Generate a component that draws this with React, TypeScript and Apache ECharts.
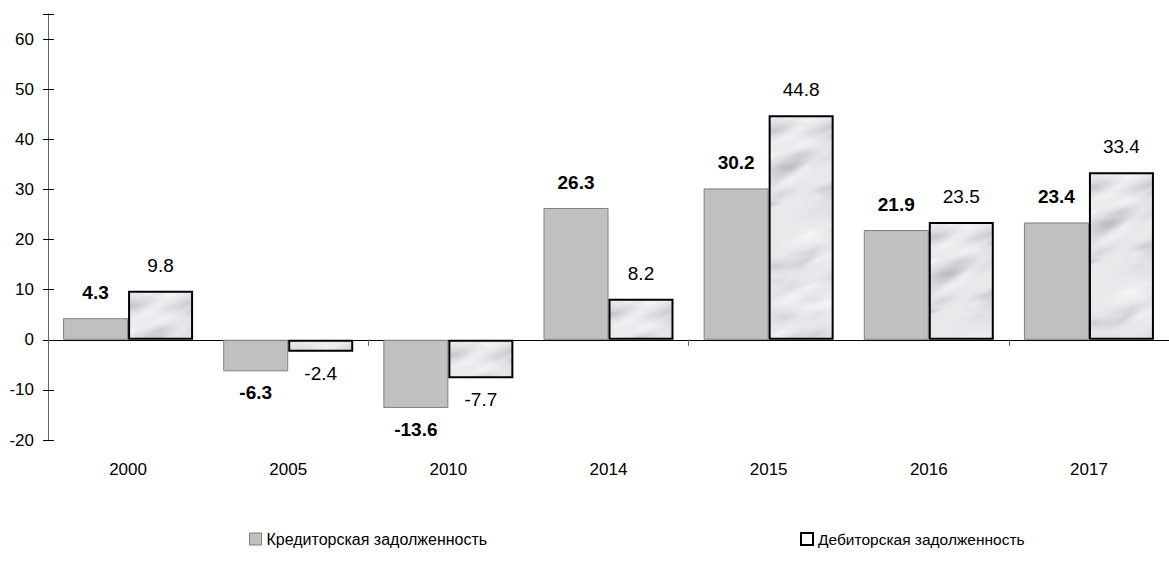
import React, { useEffect, useRef } from "react";
import * as echarts from "echarts";

const years = ["2000", "2005", "2010", "2014", "2015", "2016", "2017"];
const creditors = [4.3, -6.3, -13.6, 26.3, 30.2, 21.9, 23.4];
const debtors = [9.8, -2.4, -7.7, 8.2, 44.8, 23.5, 33.4];
const seriesNames = ["Кредиторская задолженность", "Дебиторская задолженность"];

const FONT = "'Liberation Sans', Arial, sans-serif";

function frac(v: number) {
  return ((v % 1) + 1) % 1;
}

function makeMarble(w: number, h: number): HTMLCanvasElement | null {
  const c = document.createElement("canvas");
  c.width = w;
  c.height = h;
  const ctx = c.getContext("2d");
  if (!ctx) return null;
  ctx.fillStyle = "#e9e9ec";
  ctx.fillRect(0, 0, w, h);
  // deterministic soft smudges (texture only, not data)
  for (let i = 0; i < 3000; i++) {
    const x = frac(Math.sin(i * 12.9898 + 1.1) * 43758.5453) * w;
    const y = frac(Math.sin(i * 78.233 + 2.7) * 12345.678) * h;
    const r = 6 + frac(Math.sin(i * 3.17 + 0.3) * 999.1) * 18;
    const k = i % 5;
    const shade =
      k === 0
        ? "rgba(150,152,160,0.45)"
        : k === 1
        ? "rgba(178,180,186,0.4)"
        : k === 2 || k === 3
        ? "rgba(255,255,255,0.6)"
        : "rgba(200,202,207,0.35)";
    ctx.save();
    ctx.translate(x, y);
    ctx.rotate(-0.6 + frac(Math.sin(i * 5.3) * 77.7) * 0.5);
    ctx.scale(2.0, 0.6);
    const g = ctx.createRadialGradient(0, 0, 0, 0, 0, r);
    g.addColorStop(0, shade);
    g.addColorStop(1, "rgba(230,230,234,0)");
    ctx.fillStyle = g;
    ctx.beginPath();
    ctx.arc(0, 0, r, 0, Math.PI * 2);
    ctx.fill();
    ctx.restore();
  }
  return c;
}

export default function App() {
  const ref = useRef<HTMLDivElement>(null);
  useEffect(() => {
    if (!ref.current) return;
    const chart = echarts.init(ref.current, null, { renderer: "svg" });
    const canvas = makeMarble(1200, 600);
    const marble: any = canvas ? { image: canvas, repeat: "no-repeat" } : "#e4e4e7";
    const mk = (vals: number[]) =>
      vals.map((v) => ({
        value: v,
        label: { position: v < 0 ? "bottom" : "top", distance: v < 0 ? 12 : 16 },
      }));
    const yCommon = {
      type: "value",
      min: -20,
      max: 65,
      interval: 10,
      splitLine: { show: false },
    };
    const legendText = { fontSize: 16, color: "#000", fontFamily: FONT };
    chart.setOption({
      animation: false,
      textStyle: { fontFamily: FONT },
      grid: { left: 48, right: -14, top: 14, bottom: 130, containLabel: false },
      legend: [
        {
          left: 249,
          top: 531,
          itemWidth: 12,
          itemHeight: 12,
          padding: 0,
          icon: "rect",
          textStyle: legendText,
          data: [
            { name: seriesNames[0], icon: "rect", itemStyle: { color: "#c0c0c0", borderColor: "#808080", borderWidth: 1 } },
          ],
          selectedMode: false,
        },
        {
          left: 800,
          top: 531,
          itemWidth: 12,
          itemHeight: 12,
          padding: 0,
          icon: "rect",
          textStyle: { ...legendText, fontSize: 15.5 },
          data: [
            { name: seriesNames[1], icon: "rect", itemStyle: { color: "#ffffff", borderColor: "#000", borderWidth: 2 } },
          ],
          selectedMode: false,
        },
      ],
      xAxis: [
        {
          type: "category",
          data: years,
          axisLine: { onZero: true, lineStyle: { color: "#000", width: 1 } },
          axisTick: { show: true, interval: 1, length: 6, lineStyle: { color: "#666" } },
          axisLabel: { show: false },
        },
        {
          type: "category",
          data: years,
          position: "bottom",
          axisLine: { show: false, onZero: false },
          axisTick: { show: false },
          axisLabel: { show: true, margin: 21, fontSize: 17, color: "#000", fontFamily: FONT },
        },
        {
          type: "category",
          data: years,
          axisLine: { show: false, onZero: true },
          axisTick: { show: true, inside: true, interval: 1, length: 6, lineStyle: { color: "#666" } },
          axisLabel: { show: false },
        },
      ],
      yAxis: [
        {
          ...yCommon,
          axisLine: { show: true, lineStyle: { color: "#666" } },
          axisTick: { show: true, length: 5, lineStyle: { color: "#000" } },
          axisLabel: {
            margin: 14,
            fontSize: 17,
            color: "#000",
            fontFamily: FONT,
            formatter: (v: number) => (v > 60 ? "" : String(v)),
          },
        },
        {
          ...yCommon,
          position: "left",
          axisLine: { show: false },
          axisTick: { show: true, inside: true, length: 6, lineStyle: { color: "#000" } },
          axisLabel: { show: false },
        },
      ],
      series: [
        {
          name: seriesNames[0],
          type: "bar",
          barWidth: 65,
          barGap: "0%",
          data: mk(creditors),
          itemStyle: { color: "#c0c0c0", borderColor: "#808080", borderWidth: 1 },
          label: {
            show: true,
            fontWeight: "bold",
            fontSize: 19,
            color: "#000",
            fontFamily: FONT,
          },
        },
        {
          name: seriesNames[1],
          type: "bar",
          barWidth: 65,
          barGap: "0%",
          data: mk(debtors),
          itemStyle: { color: marble, borderColor: "#000", borderWidth: 2 },
          label: {
            show: true,
            fontSize: 19,
            color: "#000",
            fontFamily: FONT,
          },
        },
      ],
    });
    return () => chart.dispose();
  }, []);
  return (
    <div
      ref={ref}
      style={{ position: "absolute", left: 0, top: 0, width: 1169, height: 570, background: "#fff" }}
    />
  );
}
